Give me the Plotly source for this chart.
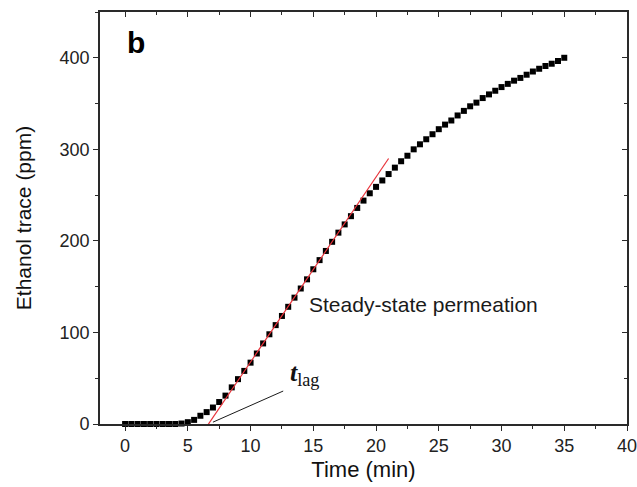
import plotly.graph_objects as go

# Data
time_min = [0, 0.5, 1, 1.5, 2, 2.5, 3, 3.5, 4, 4.5,
            5, 5.5, 6, 6.5, 7, 7.5, 8, 8.5, 9, 9.5,
            10, 10.5, 11, 11.5, 12, 12.5, 13, 13.5, 14, 14.5,
            15, 15.5, 16, 16.5, 17, 17.5, 18, 18.5, 19, 19.5,
            20, 20.5, 21, 21.5, 22, 22.5, 23, 23.5, 24, 24.5,
            25, 25.5, 26, 26.5, 27, 27.5, 28, 28.5, 29, 29.5,
            30, 30.5, 31, 31.5, 32, 32.5, 33, 33.5, 34, 34.5, 35]
ethanol_ppm = [0, 0, 0, 0, 0, 0, 0, 0, 0, 0.5,
               2, 4.5, 9, 13, 18, 24, 31, 40, 49, 58,
               67, 77, 88, 98, 108, 118, 128, 138, 148, 158,
               169, 179, 189, 199, 209, 218, 227, 236, 244, 252,
               259, 266, 273, 280, 287, 293, 300, 305.5, 311, 316.5,
               322, 327, 331.5, 337, 342, 347, 351, 356, 360, 364,
               368, 371.5, 375, 378, 381.5, 385, 388, 391, 393.5, 396.5, 400]

# Steady-state linear fit (tangent) endpoints
fit_x = [6.3, 21.0]
fit_y = [-7, 290]

# t_lag pointer line
pointer_x = [12.6, 7.0]
pointer_y = [36, 2]

x_ticks = [0, 5, 10, 15, 20, 25, 30, 35, 40]
y_ticks = [0, 100, 200, 300, 400]

X_RANGE = [-2, 40]
Y_RANGE = [0, 450]

AX = "#2a2a2a"
FONT = "Liberation Sans, Arial, sans-serif"

fig = go.Figure()

# fit line and pointer live on the mirrored (top/right) axes, same scale
fig.add_trace(go.Scatter(
    x=fit_x, y=fit_y, mode="lines", xaxis="x2", yaxis="y2",
    line=dict(color="#e8333a", width=1.2),
    showlegend=False, hoverinfo="skip"))

fig.add_trace(go.Scatter(
    x=pointer_x, y=pointer_y, mode="lines", xaxis="x2", yaxis="y2",
    line=dict(color="#1a1a1a", width=1),
    showlegend=False, hoverinfo="skip"))

fig.add_trace(go.Scatter(
    x=time_min, y=ethanol_ppm, mode="markers",
    marker=dict(symbol="square", size=6, color="#000000"),
    cliponaxis=False, showlegend=False))

common = dict(showgrid=False, zeroline=False, showline=True, linecolor=AX, mirror=True,
              linewidth=1.6, tickcolor=AX, tickwidth=1.2, automargin=False,
              ticklabeloverflow="allow",
              tickfont=dict(family=FONT, size=18, color="#222"))

mirror_common = dict(showticklabels=False, showgrid=False, zeroline=False,
                     showline=True, linecolor=AX, linewidth=1.6, tickcolor=AX,
                     tickwidth=1.2, automargin=False)

fig.update_layout(
    width=637, height=487,
    margin=dict(l=100, r=10, t=12, b=63),
    paper_bgcolor="white", plot_bgcolor="white",
    xaxis=dict(range=X_RANGE, tickmode="array", tickvals=x_ticks,
               ticks="outside", ticklen=5,
               minor=dict(dtick=2.5, tick0=0, ticks="outside", ticklen=3,
                          tickcolor=AX, tickwidth=1.2),
               title=dict(text="Time (min)", font=dict(family=FONT, size=22, color="#111"),
                          standoff=6),
               **common),
    yaxis=dict(range=Y_RANGE, tickmode="array", tickvals=y_ticks,
               ticks="outside", ticklen=5,
               minor=dict(dtick=50, tick0=0, ticks="outside", ticklen=3,
                          tickcolor=AX, tickwidth=1.2),
               title=dict(text="Ethanol trace (ppm)", font=dict(family=FONT, size=21, color="#111"),
                          standoff=22),
               **common),
    xaxis2=dict(overlaying="x", side="top", anchor="y", range=X_RANGE,
                tickmode="array", tickvals=x_ticks, ticks="inside", ticklen=5,
                minor=dict(dtick=2.5, tick0=0, ticks="inside", ticklen=3,
                           tickcolor=AX, tickwidth=1.2),
                **mirror_common),
    yaxis2=dict(overlaying="y", side="right", anchor="x", range=Y_RANGE,
                tickmode="array", tickvals=y_ticks, ticks="inside", ticklen=5,
                minor=dict(dtick=50, tick0=0, ticks="inside", ticklen=3,
                           tickcolor=AX, tickwidth=1.2),
                **mirror_common),
)

fig.add_annotation(x=0.047, y=0.925, xref="paper", yref="paper", xanchor="left", yanchor="middle",
                   text="<b>b</b>", showarrow=False,
                   font=dict(family=FONT, size=30, color="#000"))

fig.add_annotation(x=14.5, y=130, xref="x", yref="y", xanchor="left", yanchor="middle",
                   text="Steady-state permeation", showarrow=False,
                   font=dict(family=FONT, size=21, color="#1a1a1a"))

fig.add_annotation(x=13.0, y=55, xref="x", yref="y", xanchor="left", yanchor="middle",
                   text="<b><i>t</i></b><sub>lag</sub>", showarrow=False,
                   font=dict(family="Liberation Serif, Times New Roman, serif", size=26, color="#111"))

fig.write_html("out.html",
               config={"displayModeBar": False},
               post_script="document.body.style.margin='0';document.body.style.overflow='hidden';")
